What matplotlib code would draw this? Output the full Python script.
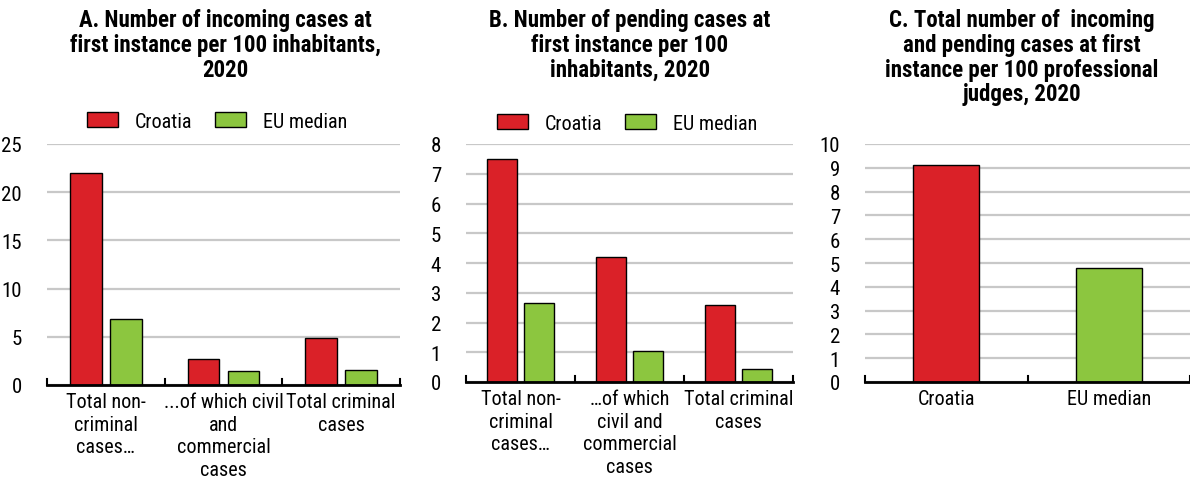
import matplotlib
matplotlib.use("Agg")
import matplotlib.pyplot as plt
from matplotlib.patches import Patch
import numpy as np

plt.rcParams["font.family"] = ["Roboto Condensed", "Liberation Sans", "DejaVu Sans"]

# Data
cats_a = ["Total non-\ncriminal\ncases\u2026", "...of which civil\nand\ncommercial\ncases", "Total criminal\ncases"]
cats_b = ["Total non-\ncriminal\ncases\u2026", "\u2026of which\ncivil and\ncommercial\ncases", "Total criminal\ncases"]
a_croatia = [22.0, 2.7, 4.9]
a_eu = [6.8, 1.5, 1.6]
b_croatia = [7.5, 4.2, 2.6]
b_eu = [2.65, 1.05, 0.45]
c_cats = ["Croatia", "EU median"]
c_values = [9.1, 4.8]
series_names = ["Croatia", "EU median"]

titles = [
    "A. Number of incoming cases at\nfirst instance per 100 inhabitants,\n2020",
    "B. Number of pending cases at\nfirst instance per 100\ninhabitants, 2020",
    "C. Total number of  incoming\nand pending cases at first\ninstance per 100 professional\njudges, 2020",
]

RED = "#DA2128"
GREEN = "#8CC63F"
GRID = "#C8C8C8"
W, H = 1190, 485
FS = 14.5
YFS = 15

fig = plt.figure(figsize=(W / 100, H / 100), dpi=100)


def px_axes(left, right, top, bottom):
    return fig.add_axes([left / W, (H - bottom) / H, (right - left) / W, (bottom - top) / H])


def style(ax, ymax, step, ncat):
    ax.set_ylim(0, ymax)
    ax.set_xlim(-0.5, ncat - 0.5)
    ax.set_yticks(np.arange(0, ymax + step / 2, step))
    for s in ["left", "right", "top"]:
        ax.spines[s].set_visible(False)
    ax.spines["bottom"].set_linewidth(2)
    ax.spines["bottom"].set_color("black")
    ax.yaxis.grid(True, color=GRID, linewidth=1.6)
    ax.set_axisbelow(True)
    ax.tick_params(axis="y", length=0, labelsize=YFS, pad=18)
    ax.tick_params(axis="x", length=0, labelsize=FS, pad=5)
    for xb in np.arange(-0.5, ncat, 1.0):
        ax.plot([xb, xb], [0, ymax * 0.025], color="black", lw=1.5, clip_on=False, zorder=5)


def grouped(ax, cats, s1, s2, ymax, step):
    x = np.arange(len(cats))
    w = 0.27
    ax.bar(x - 0.17, s1, width=w, color=RED, edgecolor="black", linewidth=1, label=series_names[0])
    ax.bar(x + 0.17, s2, width=w, color=GREEN, edgecolor="black", linewidth=1, label=series_names[1])
    ax.set_xticks(x)
    ax.set_xticklabels(cats, linespacing=1.25, va="top")
    style(ax, ymax, step, len(cats))


axA = px_axes(47, 400, 145, 386)
grouped(axA, cats_a, a_croatia, a_eu, 25, 5)
axB = px_axes(466, 793, 145, 383)
grouped(axB, cats_b, b_croatia, b_eu, 8, 1)
axC = px_axes(865, 1190, 145, 383)
xc = np.arange(len(c_cats))
axC.bar(xc, c_values, width=0.405, color=[RED, GREEN], edgecolor="black", linewidth=1)
axC.set_xticks(xc)
axC.set_xticklabels(c_cats)
style(axC, 10, 1, len(c_cats))

handles = [Patch(facecolor=RED, edgecolor="black", linewidth=1),
           Patch(facecolor=GREEN, edgecolor="black", linewidth=1)]
for cx, cy in [(217, 122), (627, 124)]:
    fig.legend(handles, series_names, loc="center", bbox_to_anchor=(cx / W, 1 - cy / H),
               ncol=2, frameon=False, fontsize=FS, handlelength=1.55, handleheight=0.75,
               columnspacing=1.15, handletextpad=0.8, borderpad=0.2)

for tx, t in zip([225, 630, 1022], titles):
    fig.text(tx / W, 1 - 9 / H, t, ha="center", va="top", fontsize=16.5, fontweight="bold",
             linespacing=1.1)

fig.savefig("out.png", dpi=100)
